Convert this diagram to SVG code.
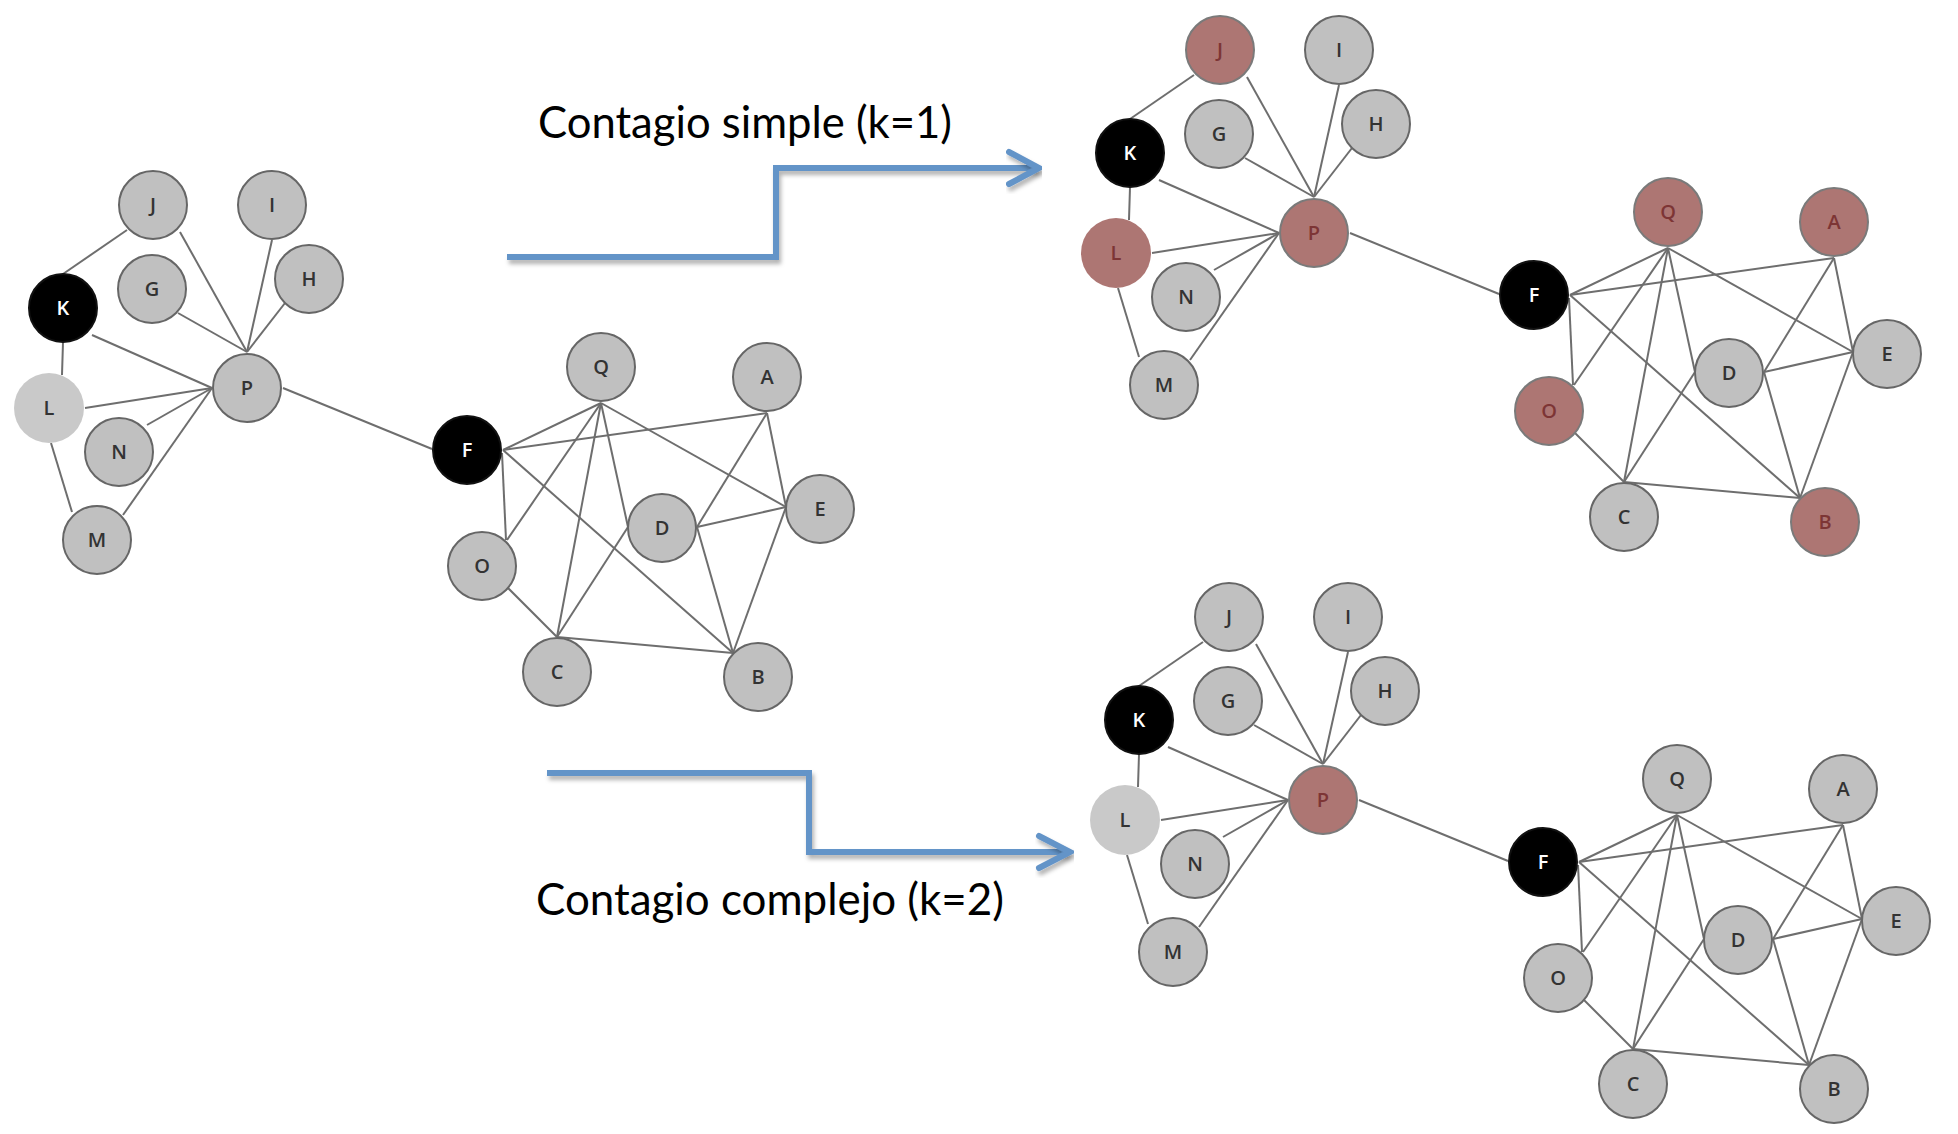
<svg xmlns="http://www.w3.org/2000/svg" width="1958" height="1134" viewBox="0 0 1958 1134">
<defs>
<style>
.edges line{stroke:#6e6e6e;stroke-width:2;fill:none}
.node circle{fill:#c0c0c0;stroke:#666;stroke-width:2}
.node text{font-family:"Open Sans","Liberation Sans",sans-serif;font-size:20px;font-weight:600;fill:#333;text-anchor:middle}
.node.blk circle{fill:#000;stroke:#111}
.node.blk text{fill:#fff}
.node.lt circle{fill:#c9c9c9;stroke:none}
.node.red circle{fill:#ad7673;stroke:#7a7a7a}
.node.red text{fill:#7d3535}
.node.redlt circle{fill:#ad7673;stroke:none}
.node.redlt text{fill:#7d3535}
.arrow{fill:none;stroke:#6494c8;stroke-width:6;filter:url(#sh)}
.lbl{font-family:Lato,"Liberation Sans",sans-serif;font-size:44px;fill:#000}
</style>
<filter id="sh" x="-10%" y="-30%" width="120%" height="160%">
<feDropShadow dx="2" dy="4" stdDeviation="2" flood-color="#000" flood-opacity="0.3"/>
</filter>
</defs>
<rect width="1958" height="1134" fill="#fff"/>

<!-- Panel 1: original -->
<g id="panel-original">
<g id="orig-connectors" class="edges">
<line x1="63" y1="274" x2="127" y2="230"/>
<line x1="180" y1="232" x2="247" y2="352"/>
<line x1="272" y1="240" x2="247" y2="352"/>
<line x1="285" y1="303" x2="247" y2="352"/>
<line x1="178" y1="313" x2="247" y2="352"/>
<line x1="92" y1="335" x2="212" y2="388"/>
<line x1="63" y1="342" x2="62" y2="375"/>
<line x1="85" y1="408" x2="212" y2="388"/>
<line x1="147" y1="425" x2="212" y2="388"/>
<line x1="123" y1="515" x2="212" y2="388"/>
<line x1="51" y1="443" x2="72" y2="512"/>
<line x1="283" y1="388" x2="432" y2="449"/>
<line x1="503" y1="450" x2="601" y2="403"/>
<line x1="503" y1="450" x2="767" y2="413"/>
<line x1="502" y1="453" x2="506" y2="540"/>
<line x1="503" y1="450" x2="733" y2="653"/>
<line x1="601" y1="403" x2="507" y2="540"/>
<line x1="601" y1="403" x2="557" y2="637"/>
<line x1="601" y1="403" x2="628" y2="527"/>
<line x1="601" y1="403" x2="786" y2="507"/>
<line x1="767" y1="413" x2="697" y2="527"/>
<line x1="767" y1="413" x2="786" y2="507"/>
<line x1="697" y1="527" x2="786" y2="507"/>
<line x1="628" y1="527" x2="557" y2="637"/>
<line x1="697" y1="527" x2="733" y2="653"/>
<line x1="786" y1="507" x2="733" y2="653"/>
<line x1="507" y1="587" x2="557" y2="637"/>
<line x1="557" y1="637" x2="733" y2="653"/>
</g>
<g id="orig-J" class="node"><circle cx="153" cy="205" r="34"/><text x="153" y="212">J</text></g>
<g id="orig-I" class="node"><circle cx="272" cy="205" r="34"/><text x="272" y="212">I</text></g>
<g id="orig-H" class="node"><circle cx="309" cy="279" r="34"/><text x="309" y="286">H</text></g>
<g id="orig-G" class="node"><circle cx="152" cy="289" r="34"/><text x="152" y="296">G</text></g>
<g id="orig-K" class="node blk"><circle cx="63" cy="308" r="34"/><text x="63" y="315">K</text></g>
<g id="orig-P" class="node"><circle cx="247" cy="388" r="34"/><text x="247" y="395">P</text></g>
<g id="orig-L" class="node lt"><circle cx="49" cy="408" r="35"/><text x="49" y="415">L</text></g>
<g id="orig-N" class="node"><circle cx="119" cy="452" r="34"/><text x="119" y="459">N</text></g>
<g id="orig-M" class="node"><circle cx="97" cy="540" r="34"/><text x="97" y="547">M</text></g>
<g id="orig-F" class="node blk"><circle cx="467" cy="450" r="34"/><text x="467" y="457">F</text></g>
<g id="orig-Q" class="node"><circle cx="601" cy="367" r="34"/><text x="601" y="374">Q</text></g>
<g id="orig-A" class="node"><circle cx="767" cy="377" r="34"/><text x="767" y="384">A</text></g>
<g id="orig-E" class="node"><circle cx="820" cy="509" r="34"/><text x="820" y="516">E</text></g>
<g id="orig-D" class="node"><circle cx="662" cy="528" r="34"/><text x="662" y="535">D</text></g>
<g id="orig-O" class="node"><circle cx="482" cy="566" r="34"/><text x="482" y="573">O</text></g>
<g id="orig-C" class="node"><circle cx="557" cy="672" r="34"/><text x="557" y="679">C</text></g>
<g id="orig-B" class="node"><circle cx="758" cy="677" r="34"/><text x="758" y="684">B</text></g>
</g>

<!-- Panel 2: simple contagion -->
<g id="panel-simple" transform="translate(1067,-155)">
<g id="simple-connectors" class="edges">
<line x1="63" y1="274" x2="127" y2="230"/>
<line x1="180" y1="232" x2="247" y2="352"/>
<line x1="272" y1="240" x2="247" y2="352"/>
<line x1="285" y1="303" x2="247" y2="352"/>
<line x1="178" y1="313" x2="247" y2="352"/>
<line x1="92" y1="335" x2="212" y2="388"/>
<line x1="63" y1="342" x2="62" y2="375"/>
<line x1="85" y1="408" x2="212" y2="388"/>
<line x1="147" y1="425" x2="212" y2="388"/>
<line x1="123" y1="515" x2="212" y2="388"/>
<line x1="51" y1="443" x2="72" y2="512"/>
<line x1="283" y1="388" x2="432" y2="449"/>
<line x1="503" y1="450" x2="601" y2="403"/>
<line x1="503" y1="450" x2="767" y2="413"/>
<line x1="502" y1="453" x2="506" y2="540"/>
<line x1="503" y1="450" x2="733" y2="653"/>
<line x1="601" y1="403" x2="507" y2="540"/>
<line x1="601" y1="403" x2="557" y2="637"/>
<line x1="601" y1="403" x2="628" y2="527"/>
<line x1="601" y1="403" x2="786" y2="507"/>
<line x1="767" y1="413" x2="697" y2="527"/>
<line x1="767" y1="413" x2="786" y2="507"/>
<line x1="697" y1="527" x2="786" y2="507"/>
<line x1="628" y1="527" x2="557" y2="637"/>
<line x1="697" y1="527" x2="733" y2="653"/>
<line x1="786" y1="507" x2="733" y2="653"/>
<line x1="507" y1="587" x2="557" y2="637"/>
<line x1="557" y1="637" x2="733" y2="653"/>
</g>
<g id="simple-J" class="node red"><circle cx="153" cy="205" r="34"/><text x="153" y="212">J</text></g>
<g id="simple-I" class="node"><circle cx="272" cy="205" r="34"/><text x="272" y="212">I</text></g>
<g id="simple-H" class="node"><circle cx="309" cy="279" r="34"/><text x="309" y="286">H</text></g>
<g id="simple-G" class="node"><circle cx="152" cy="289" r="34"/><text x="152" y="296">G</text></g>
<g id="simple-K" class="node blk"><circle cx="63" cy="308" r="34"/><text x="63" y="315">K</text></g>
<g id="simple-P" class="node red"><circle cx="247" cy="388" r="34"/><text x="247" y="395">P</text></g>
<g id="simple-L" class="node redlt"><circle cx="49" cy="408" r="35"/><text x="49" y="415">L</text></g>
<g id="simple-N" class="node"><circle cx="119" cy="452" r="34"/><text x="119" y="459">N</text></g>
<g id="simple-M" class="node"><circle cx="97" cy="540" r="34"/><text x="97" y="547">M</text></g>
<g id="simple-F" class="node blk"><circle cx="467" cy="450" r="34"/><text x="467" y="457">F</text></g>
<g id="simple-Q" class="node red"><circle cx="601" cy="367" r="34"/><text x="601" y="374">Q</text></g>
<g id="simple-A" class="node red"><circle cx="767" cy="377" r="34"/><text x="767" y="384">A</text></g>
<g id="simple-E" class="node"><circle cx="820" cy="509" r="34"/><text x="820" y="516">E</text></g>
<g id="simple-D" class="node"><circle cx="662" cy="528" r="34"/><text x="662" y="535">D</text></g>
<g id="simple-O" class="node red"><circle cx="482" cy="566" r="34"/><text x="482" y="573">O</text></g>
<g id="simple-C" class="node"><circle cx="557" cy="672" r="34"/><text x="557" y="679">C</text></g>
<g id="simple-B" class="node red"><circle cx="758" cy="677" r="34"/><text x="758" y="684">B</text></g>
</g>

<!-- Panel 3: complex contagion -->
<g id="panel-complex" transform="translate(1076,412)">
<g id="complex-connectors" class="edges">
<line x1="63" y1="274" x2="127" y2="230"/>
<line x1="180" y1="232" x2="247" y2="352"/>
<line x1="272" y1="240" x2="247" y2="352"/>
<line x1="285" y1="303" x2="247" y2="352"/>
<line x1="178" y1="313" x2="247" y2="352"/>
<line x1="92" y1="335" x2="212" y2="388"/>
<line x1="63" y1="342" x2="62" y2="375"/>
<line x1="85" y1="408" x2="212" y2="388"/>
<line x1="147" y1="425" x2="212" y2="388"/>
<line x1="123" y1="515" x2="212" y2="388"/>
<line x1="51" y1="443" x2="72" y2="512"/>
<line x1="283" y1="388" x2="432" y2="449"/>
<line x1="503" y1="450" x2="601" y2="403"/>
<line x1="503" y1="450" x2="767" y2="413"/>
<line x1="502" y1="453" x2="506" y2="540"/>
<line x1="503" y1="450" x2="733" y2="653"/>
<line x1="601" y1="403" x2="507" y2="540"/>
<line x1="601" y1="403" x2="557" y2="637"/>
<line x1="601" y1="403" x2="628" y2="527"/>
<line x1="601" y1="403" x2="786" y2="507"/>
<line x1="767" y1="413" x2="697" y2="527"/>
<line x1="767" y1="413" x2="786" y2="507"/>
<line x1="697" y1="527" x2="786" y2="507"/>
<line x1="628" y1="527" x2="557" y2="637"/>
<line x1="697" y1="527" x2="733" y2="653"/>
<line x1="786" y1="507" x2="733" y2="653"/>
<line x1="507" y1="587" x2="557" y2="637"/>
<line x1="557" y1="637" x2="733" y2="653"/>
</g>
<g id="complex-J" class="node"><circle cx="153" cy="205" r="34"/><text x="153" y="212">J</text></g>
<g id="complex-I" class="node"><circle cx="272" cy="205" r="34"/><text x="272" y="212">I</text></g>
<g id="complex-H" class="node"><circle cx="309" cy="279" r="34"/><text x="309" y="286">H</text></g>
<g id="complex-G" class="node"><circle cx="152" cy="289" r="34"/><text x="152" y="296">G</text></g>
<g id="complex-K" class="node blk"><circle cx="63" cy="308" r="34"/><text x="63" y="315">K</text></g>
<g id="complex-P" class="node red"><circle cx="247" cy="388" r="34"/><text x="247" y="395">P</text></g>
<g id="complex-L" class="node lt"><circle cx="49" cy="408" r="35"/><text x="49" y="415">L</text></g>
<g id="complex-N" class="node"><circle cx="119" cy="452" r="34"/><text x="119" y="459">N</text></g>
<g id="complex-M" class="node"><circle cx="97" cy="540" r="34"/><text x="97" y="547">M</text></g>
<g id="complex-F" class="node blk"><circle cx="467" cy="450" r="34"/><text x="467" y="457">F</text></g>
<g id="complex-Q" class="node"><circle cx="601" cy="367" r="34"/><text x="601" y="374">Q</text></g>
<g id="complex-A" class="node"><circle cx="767" cy="377" r="34"/><text x="767" y="384">A</text></g>
<g id="complex-E" class="node"><circle cx="820" cy="509" r="34"/><text x="820" y="516">E</text></g>
<g id="complex-D" class="node"><circle cx="662" cy="528" r="34"/><text x="662" y="535">D</text></g>
<g id="complex-O" class="node"><circle cx="482" cy="566" r="34"/><text x="482" y="573">O</text></g>
<g id="complex-C" class="node"><circle cx="557" cy="672" r="34"/><text x="557" y="679">C</text></g>
<g id="complex-B" class="node"><circle cx="758" cy="677" r="34"/><text x="758" y="684">B</text></g>
</g>

<!-- Transition arrows -->
<g id="arrows">
<g id="arrow-simple">
<path class="arrow" d="M507,257 H776 V168 H1037"/>
<path class="arrow" d="M1009,152 L1039,168 L1009,184" stroke-linecap="round"/>
<text class="lbl" x="538" y="138" textLength="414" lengthAdjust="spacingAndGlyphs">Contagio simple (k=1)</text>
</g>
<g id="arrow-complex">
<path class="arrow" d="M547,773 H809 V852 H1068"/>
<path class="arrow" d="M1039,836 L1070,852 L1039,868" stroke-linecap="round"/>
<text class="lbl" x="536" y="915" textLength="468" lengthAdjust="spacingAndGlyphs">Contagio complejo (k=2)</text>
</g>
</g>
</svg>
